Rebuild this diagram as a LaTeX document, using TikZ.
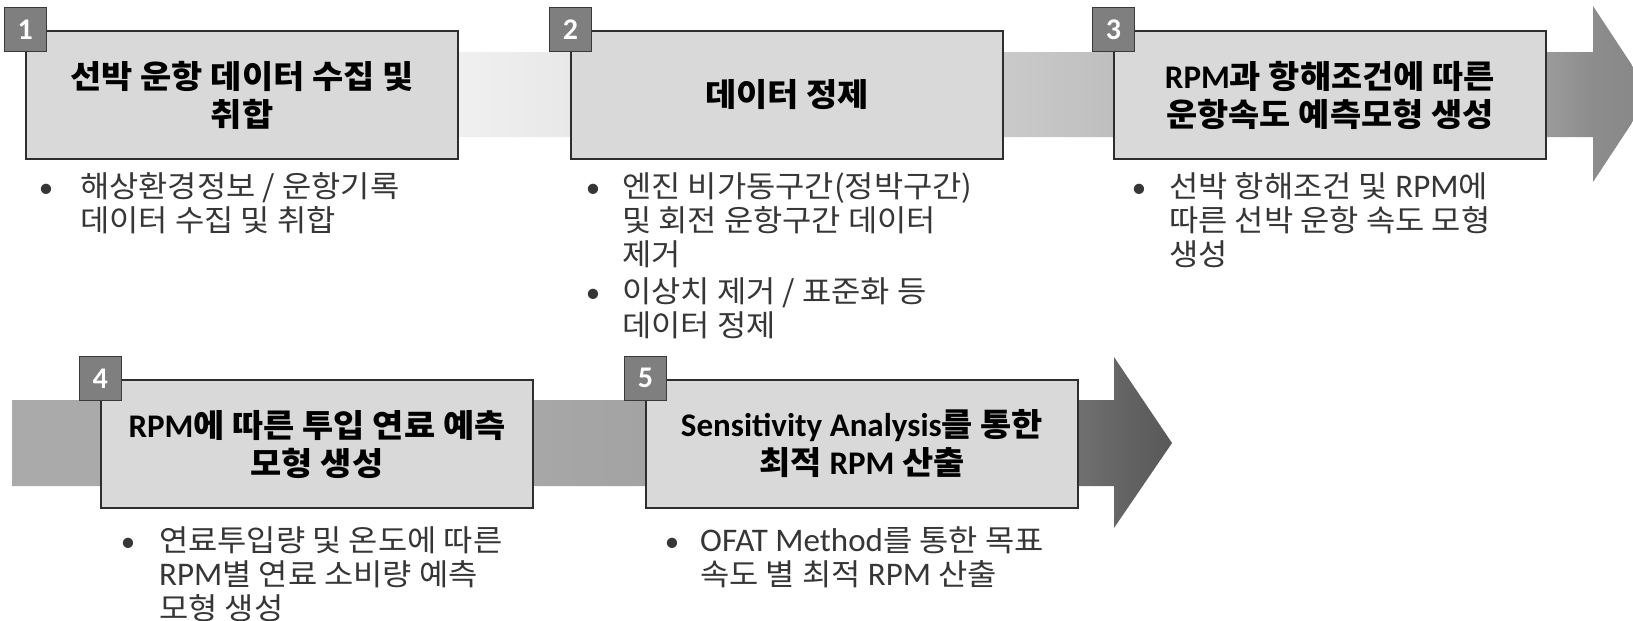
\documentclass[tikz,border=0pt]{standalone}
\usepackage{fontspec}
\setmainfont{Noto Sans CJK KR}[FakeStretch=1.06]
\newfontfamily\latf{Carlito}
\definecolor{boxfill}{HTML}{D9D9D9}
\definecolor{boxline}{HTML}{2E2E2E}
\definecolor{badgefill}{HTML}{7F7F7F}
\definecolor{badgeline}{HTML}{3A3A3A}
\definecolor{bodytext}{HTML}{363636}
\pgfdeclarehorizontalshading{topgrad}{100bp}{rgb(0bp)=(1,1,1); rgb(25bp)=(1,1,1); rgb(32.87bp)=(1,1,1); rgb(38.87bp)=(0.941,0.941,0.941); rgb(55.38bp)=(0.792,0.792,0.792); rgb(58.74bp)=(0.745,0.745,0.745); rgb(71.82bp)=(0.608,0.608,0.608); rgb(73.24bp)=(0.55,0.55,0.55); rgb(75bp)=(0.53,0.53,0.53); rgb(100bp)=(0.53,0.53,0.53)}
\pgfdeclarehorizontalshading{botgrad}{100bp}{rgb(0bp)=(0.667,0.667,0.667); rgb(25bp)=(0.667,0.667,0.667); rgb(47.33bp)=(0.655,0.655,0.655); rgb(52.33bp)=(0.639,0.639,0.639); rgb(70.95bp)=(0.44,0.44,0.44); rgb(72.5bp)=(0.4,0.4,0.4); rgb(75bp)=(0.345,0.345,0.345); rgb(100bp)=(0.345,0.345,0.345)}
\newcommand\myen[1]{{\latf\fontsize{33}{34}\selectfont #1}}
\newcommand\myenb[1]{{\latf\fontsize{33}{38}\selectfont #1}}
\newcommand\mylines[1]{\vtop{\let\\\cr\halign{##\hfil\cr#1\cr}}}
\tikzset{
  stepbox/.style={draw=boxline, fill=boxfill, line width=1.3pt, minimum width=432, minimum height=128, inner sep=0pt, align=center, font=\fontsize{32}{38}\selectfont\bfseries},
  badge/.style={draw=badgeline, fill=badgefill, line width=1.3pt, minimum width=42, minimum height=44, inner sep=0pt, text=white, font=\latf\fontsize{30}{30}\selectfont\bfseries},
  bul/.style={anchor=base, inner sep=0pt, text=bodytext, font=\latf\fontsize{29}{34}\selectfont},
  btxt/.style={anchor=base west, inner sep=0pt, text=bodytext, font=\fontsize{30}{34}\selectfont},
}
\begin{document}
\begin{tikzpicture}[x=1pt,y=-1pt]
\useasboundingbox (0,0) rectangle (1633,621);
\clip (0,0) rectangle (1633,621);
\fill[white] (0,0) rectangle (1633,621);
% flow arrows
\shade[shading=topgrad] (0,52) -- (1593,52) -- (1593,6) -- (1651,94) -- (1593,182) -- (1593,137) -- (0,137) -- cycle;
\shade[shading=botgrad] (12,400) -- (1114,400) -- (1114,357) -- (1172,443) -- (1114,528) -- (1114,486) -- (12,486) -- cycle;
% step boxes
\node[stepbox] (b1) at (242,95) {선박 운항 데이터 수집 및\\취합};
\node[stepbox] (b2) at (787,95) {데이터 정제};
\node[stepbox] (b3) at (1330,95) {\myenb{RPM}과 항해조건에 따른\\운항속도 예측모형 생성};
\node[stepbox] (b4) at (317,444) {\myenb{RPM}에 따른 투입 연료 예측\\모형 생성};
\node[stepbox] (b5) at (862,444) {\myenb{Sensitivity Analysis}를 통한\\최적 \myenb{RPM} 산출};
% badges
\node[badge] (n1) at (b1.north west) [yshift=1pt] {1};
\node[badge] (n2) at (b2.north west) [yshift=1pt] {2};
\node[badge] (n3) at (b3.north west) [yshift=1pt] {3};
\node[badge] (n4) at (b4.north west) [yshift=1pt] {4};
\node[badge] (n5) at (b5.north west) [yshift=1pt] {5};
% bullet texts
\node[bul] (u1) at (46,197.5) {•};
\node[btxt] (t1) at (80,197.5) {\mylines{해상환경정보 / 운항기록\\데이터 수집 및 취합}};
\node[bul] (u2) at (593,197.5) {•};
\node[btxt] (t2) at (622,197.5) {\mylines{엔진 비가동구간(정박구간)\\및 회전 운항구간 데이터\\제거}};
\node[bul] (u3) at (593,302.5) {•};
\node[btxt] (t3) at (622,302.5) {\mylines{이상치 제거 / 표준화 등\\데이터 정제}};
\node[bul] (u4) at (1139,197.5) {•};
\node[btxt] (t4) at (1169,197.5) {\mylines{선박 항해조건 및 \myen{RPM}에\\따른 선박 운항 속도 모형\\생성}};
\node[bul] (u5) at (128,551.5) {•};
\node[btxt] (t5) at (159,551.5) {\mylines{연료투입량 및 온도에 따른\\\myen{RPM}별 연료 소비량 예측\\모형 생성}};
\node[bul] (u6) at (672,551.5) {•};
\node[btxt] (t6) at (700,551.5) {\mylines{\myen{OFAT Method}를 통한 목표\\속도 별 최적 \myen{RPM} 산출}};
\end{tikzpicture}
\end{document}
